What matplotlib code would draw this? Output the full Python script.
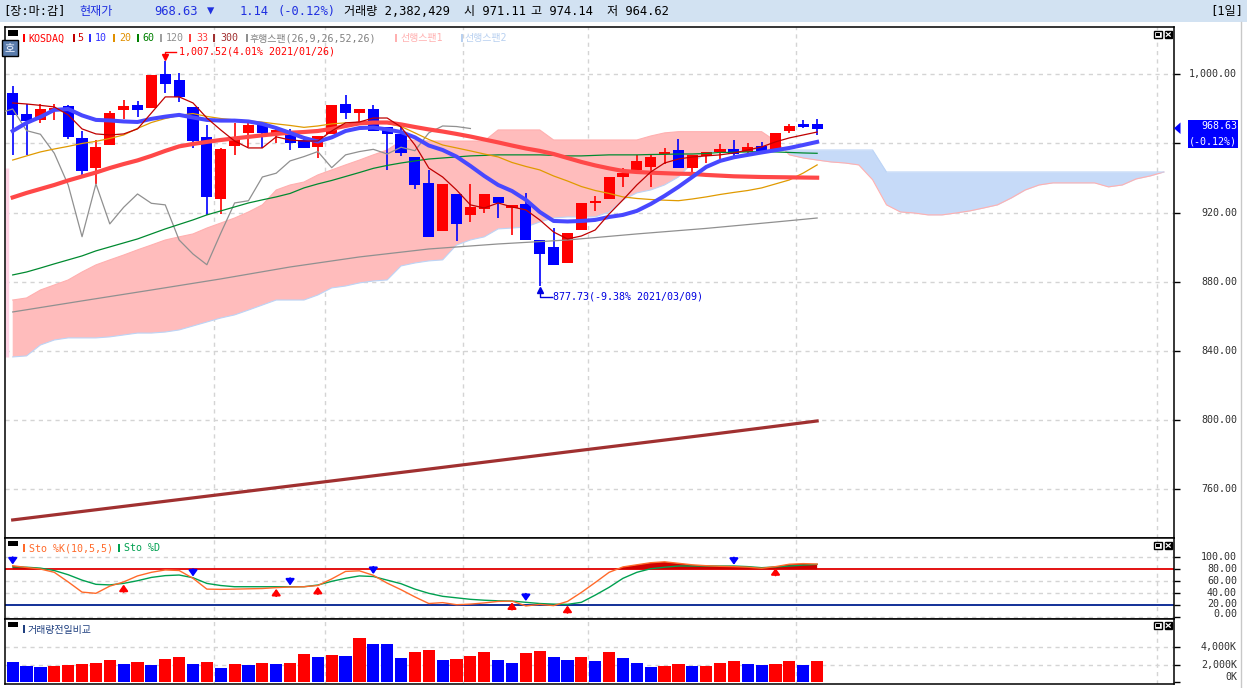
import numpy as np
import matplotlib
matplotlib.use("Agg")
import matplotlib.pyplot as plt
from matplotlib.patches import Rectangle, Polygon
from matplotlib.lines import Line2D

plt.rcParams["font.family"] = ["DejaVu Sans Mono", "Noto Sans CJK KR"]

# ---- KOSDAQ daily candles 2021-01-11 .. 2021-04-06 ----
opens = [989.0, 977.1, 973.6, 979.4, 981.8, 963.4, 945.7, 959.1, 979.5, 982.3,
         980.7, 1000.2, 996.5, 980.9, 963.6, 927.7, 958.7, 965.9, 970.7, 964.9,
         967.2, 962.0, 958.2, 965.3, 982.8, 977.8, 979.9, 969.4, 965.7, 952.0,
         937.0, 909.6, 930.8, 918.7, 922.1, 929.1, 922.7, 925.0, 904.2, 900.3,
         890.8, 910.0, 925.8, 927.9, 940.6, 944.7, 946.6, 953.8, 956.2, 946.0,
         952.8, 955.3, 956.6, 954.9, 958.6, 956.2, 967.4, 971.3, 971.11]
highs = [993.4, 982.8, 982.8, 982.8, 982.3, 967.4, 962.0, 979.0, 985.1, 984.7,
         999.6, 1007.52, 1000.8, 980.9, 970.7, 957.6, 971.8, 971.8, 971.5, 969.7,
         968.2, 964.3, 964.3, 982.3, 988.0, 979.9, 982.3, 969.4, 969.4, 952.0,
         944.7, 936.6, 930.8, 936.4, 930.8, 929.1, 924.5, 931.2, 904.2, 911.3,
         908.1, 925.6, 929.4, 940.6, 946.0, 953.4, 953.4, 957.6, 962.6, 953.4,
         955.3, 959.7, 962.0, 960.1, 961.0, 966.1, 971.3, 973.6, 974.14]
lows = [953.4, 953.4, 971.8, 973.6, 962.6, 939.9, 936.6, 959.1, 974.3, 975.1,
        980.7, 989.0, 984.2, 957.2, 918.7, 919.2, 953.4, 958.2, 957.2, 960.1,
        956.2, 957.6, 951.4, 965.3, 974.0, 971.7, 967.4, 944.7, 952.9, 933.7,
        906.1, 909.6, 903.8, 914.5, 920.0, 916.8, 907.1, 904.2, 877.73, 889.9,
        890.8, 910.0, 921.2, 927.9, 934.7, 944.7, 935.0, 948.0, 946.0, 943.1,
        948.6, 950.9, 952.8, 953.8, 953.9, 956.2, 966.2, 968.8, 964.62]
closes = [976.5, 973.2, 979.8, 980.5, 963.9, 944.3, 958.2, 977.6, 981.8, 979.4,
          999.6, 994.2, 986.7, 961.4, 928.9, 956.8, 963.6, 970.5, 965.9, 967.8,
          960.5, 957.6, 964.3, 982.3, 977.5, 979.9, 967.4, 965.3, 954.3, 936.0,
          906.1, 936.6, 913.5, 923.1, 930.8, 925.4, 924.5, 904.2, 896.1, 889.9,
          908.1, 925.6, 926.9, 940.6, 942.8, 949.9, 952.4, 955.3, 946.0, 953.4,
          955.3, 956.6, 953.9, 957.8, 955.8, 966.1, 970.1, 969.77, 968.63]

# moving averages
ma5 = [983.4, 982.8, 982.0, 981.1, 976.5, 968.4, 965.5, 964.9, 965.5, 968.4,
       977.6, 986.9, 986.9, 983.4, 974.7, 967.8, 961.4, 957.4, 957.4, 963.8,
       962.0, 961.4, 961.4, 967.2, 971.9, 972.4, 974.7, 974.7, 969.5, 959.1,
       945.8, 940.6, 933.1, 924.5, 922.7, 925.6, 923.3, 921.6, 915.8, 908.8,
       904.8, 906.5, 910.0, 919.2, 927.4, 936.0, 943.5, 948.7, 951.0, 952.2,
       952.8, 953.4, 954.5, 956.2, 958.0, 960.9, 963.2, 964.9, 966.6]
ma10 = [967.2, 971.9, 975.3, 979.4, 979.9, 976.2, 973.6, 973.3, 972.7, 972.4,
        974.2, 975.5, 976.5, 975.0, 973.6, 973.2, 973.2, 972.7, 971.3, 968.9,
        966.1, 963.2, 961.1, 963.5, 967.2, 968.9, 969.2, 968.1, 966.6, 963.5,
        958.8, 956.2, 952.4, 947.0, 941.2, 936.0, 932.5, 927.4, 920.4, 915.2,
        914.9, 915.2, 915.8, 917.5, 918.7, 921.0, 925.0, 929.7, 934.9, 940.6,
        946.4, 949.9, 952.0, 953.4, 954.8, 956.1, 957.4, 959.1, 960.9]
ma20 = [950.4, 952.8, 955.1, 956.8, 958.3, 960.0, 961.2, 962.9, 964.9, 968.7,
        972.1, 974.4, 976.2, 977.3, 975.6, 974.4, 973.6, 973.0, 972.3, 971.3,
        970.4, 969.3, 970.1, 971.3, 971.9, 972.1, 972.1, 971.6, 969.8, 966.1,
        962.3, 959.1, 957.4, 955.7, 953.9, 952.2, 949.0, 946.7, 944.7, 941.2,
        938.3, 935.1, 932.8, 931.1, 929.1, 928.2, 927.6, 927.2, 926.9, 927.9,
        929.1, 930.5, 931.7, 932.8, 934.3, 936.6, 938.9, 942.9, 947.6]
ma60 = [884.0, 885.7, 888.0, 890.4, 892.7, 895.0, 897.9, 900.2, 902.5, 904.8,
        907.7, 910.6, 913.2, 915.8, 918.7, 921.0, 923.3, 925.6, 927.4, 929.1,
        931.1, 934.3, 936.6, 938.6, 940.9, 943.2, 945.6, 947.3, 948.7, 949.9,
        951.0, 951.6, 952.2, 952.8, 953.1, 953.4, 953.4, 953.4, 953.4, 953.1,
        952.8, 952.8, 953.1, 953.4, 953.4, 953.4, 953.6, 953.7, 953.9, 953.9,
        954.2, 954.8, 954.9, 955.1, 955.3, 955.1, 954.8, 954.5, 954.3]
ma33 = [928.8, 931.4, 933.7, 936.0, 938.6, 940.9, 943.2, 945.8, 948.1, 950.2,
        952.8, 955.7, 958.3, 959.7, 960.9, 962.0, 962.9, 963.8, 964.7, 965.5,
        966.2, 966.6, 967.2, 968.4, 970.1, 971.6, 972.1, 972.1, 971.0, 969.5,
        968.1, 966.9, 965.5, 964.0, 962.3, 960.6, 958.8, 957.1, 955.7, 953.9,
        951.6, 949.3, 947.3, 945.6, 944.1, 943.5, 943.1, 942.8, 942.5, 942.4,
        941.8, 941.4, 941.0, 940.8, 940.6, 940.5, 940.4, 940.3, 940.2]
ma120_at = [0, 5, 10, 15, 20, 25, 30, 35, 40, 45, 50, 55, 58]
ma120 = [862.6, 869.0, 875.3, 881.7, 888.6, 894.4, 899.0, 901.9, 904.2, 907.7,
         910.9, 914.6, 916.9]
ma300_at = [0, 10, 20, 30, 40, 50, 58]
ma300 = [742.4, 752.2, 762.0, 771.8, 781.7, 791.5, 799.6]

# ichimoku leading spans, bar 0 .. bar 83 (26 bars ahead)
span1 = [869.5, 870.7, 875.3, 878.2, 881.1, 885.7, 889.8, 892.7, 895.5, 898.5,
         901.3, 904.2, 906.0, 907.7, 911.1, 914.0, 916.9, 920.4, 924.5, 933.1,
         936.0, 937.7, 941.8, 944.7, 947.6, 950.4, 953.4, 956.2, 961.4, 962.0,
         961.4, 961.4, 961.4, 961.4, 961.4, 967.8, 967.8, 967.8, 967.8, 962.0,
         962.0, 962.0, 962.0, 962.0, 962.0, 962.0, 964.3, 966.1, 966.8, 966.8,
         966.8, 966.8, 966.8, 966.8, 966.8, 961.4, 953.4, 951.6, 950.4, 949.3,
         948.7, 947.6, 939.0, 924.5, 920.4, 919.8, 918.7, 918.7, 919.8, 921.0,
         922.7, 924.5, 928.5, 933.1, 936.0, 937.2, 937.2, 937.2, 937.2, 934.9,
         936.0, 939.5, 941.2, 943.5]
span1_prev = 946.0          # leading span 1 on the bar just left of the window
span2 = [836.6, 837.2, 843.5, 846.4, 847.6, 847.6, 847.6, 848.2, 849.3, 850.4,
         850.4, 851.0, 852.2, 854.5, 856.8, 859.1, 860.9, 863.7, 866.6, 869.5,
         869.5, 869.5, 872.4, 876.5, 877.6, 879.4, 880.5, 881.1, 889.2, 890.9,
         892.1, 892.7, 901.3, 904.2, 906.0, 910.6, 911.1, 911.7, 914.6, 916.9,
         917.5, 917.5, 917.5, 920.4, 927.4, 931.4, 933.1, 936.0, 940.6, 948.7,
         954.5, 956.2, 956.2, 956.2, 956.2, 956.2, 956.2, 956.2, 956.2, 956.2,
         956.2, 956.2, 956.2, 943.5, 943.5, 943.5, 943.5, 943.5, 943.5, 943.5,
         943.5, 943.5, 943.5, 943.5, 943.5, 943.5, 943.5, 943.5, 943.5, 943.5,
         943.5, 943.5, 943.5, 943.5]
LAG = 25

# stochastic slow (10,5,5)
sto_k = [86, 83, 80.5, 75, 59, 42, 40, 52, 59, 69,
         75, 79, 78, 65, 47, 46.6, 47, 47.5, 48, 49.5,
         50.5, 51, 53, 64, 76.5, 77.5, 70, 57, 46, 34,
         23, 24.5, 21, 22, 24, 26.5, 27, 19, 21.5, 19.5,
         26.5, 41.5, 58, 75, 84, 87.5, 91, 92.5, 90, 87.5,
         86, 85, 84.5, 83.5, 81.7, 84.5, 88.5, 89.5, 88.8]
sto_d = [84, 83.5, 82, 78, 71, 62, 55, 54, 56.6, 61,
         66.5, 69.5, 70.5, 66, 56.5, 53, 51, 51, 51, 51,
         51, 51, 53.8, 60, 65, 69, 68, 62, 56, 47,
         40, 35, 32.5, 30, 28.5, 27.5, 27.1, 25, 23, 22,
         21.6, 25, 37, 50, 65, 75, 81, 83.5, 85.5, 85.5,
         85.5, 85.5, 85.5, 84.5, 82.7, 84, 85.5, 87, 88.3]
sell_sig = [0, 13, 20, 26, 37, 52]
buy_sig = [8, 19, 22, 36, 40, 55]

# volume, thousands of shares
volume = [2291, 1861, 1745, 1861, 1981, 2097, 2213, 2562, 2097, 2330,
          1981, 2679, 2911, 2097, 2330, 1632, 2097, 1981, 2213, 2097,
          2213, 3260, 2911, 3144, 3028, 5121, 4423, 4400, 2795, 3493,
          3725, 2562, 2679, 3028, 3493, 2562, 2213, 3377, 3609, 2911,
          2562, 2911, 2446, 3493, 2795, 2213, 1745, 1861, 2097, 1861,
          1870, 2213, 2446, 2097, 1981, 2097, 2446, 1981, 2382]

price_ticks = [760, 800, 840, 880, 920, 960, 1000]
month_breaks = [14.5, 22.5, 32.5, 41.5, 56.5, 82.5]

RED, BLUE = "#ff0000", "#0000ff"
GRID = "#d4d4d4"
FS = 7.2

W, H = 1247, 688
fig = plt.figure(figsize=(W / 100, H / 100), dpi=100)
fig.patch.set_facecolor("white")


def ftext(x, y, s, **kw):
    kw.setdefault("va", "center")
    kw.setdefault("fontsize", FS)
    fig.text(x / W, 1 - y / H, s, **kw)


def frect(x0, y0, x1, y1, **kw):
    fig.add_artist(Rectangle((x0 / W, 1 - y1 / H), (x1 - x0) / W, (y1 - y0) / H,
                             transform=fig.transFigure, **kw))


def fline(xs, ys, **kw):
    fig.add_artist(Line2D([x / W for x in xs], [1 - y / H for y in ys],
                          transform=fig.transFigure, **kw))


L, R = 5, 1174


def add_ax(top, bottom):
    a = fig.add_axes([L / W, 1 - bottom / H, (R - L) / W, (bottom - top) / H])
    a.set_xlim(-0.555, 83.73)
    a.set_xticks([])
    for s in a.spines.values():
        s.set_color("black")
        s.set_linewidth(1.1)
    a.tick_params(axis="y", left=False, right=True, labelleft=False,
                  labelright=False, direction="out", length=4, width=1)
    for xb in month_breaks:
        a.axvline(xb, color=GRID, lw=1, ls=(0, (3, 3)), zorder=0.5)
    return a


def right_labels(a, vals, labels, ypos=None):
    a.set_yticks(vals)
    for v, lab in zip(vals if ypos is None else ypos, labels):
        if lab:
            a.text(1 + 63 / (R - L), v, lab, transform=a.get_yaxis_transform(),
                   ha="right", va="center", fontsize=FS, color="#303030")


# ---- header bar ----
frect(0, 0, W, 22, facecolor="#d2e2f2", edgecolor="none")
HF = 8.7
ftext(3.6, 11.5, "[장:마:감]", fontsize=HF, color="black")
ftext(79.5, 11.5, "현재가", fontsize=HF, color="#2030e0")
ftext(154, 11.5, "968.63", fontsize=HF, color="#2030e0")
ftext(207, 11.5, "▼", fontsize=HF, color="#2030e0")
ftext(240, 11.5, "1.14", fontsize=HF, color="#2030e0")
ftext(277.7, 11.5, "(-0.12%)", fontsize=HF, color="#2030e0")
ftext(343.8, 11.5, "거래량 2,382,429", fontsize=HF, color="black")
ftext(464, 11.5, "시 971.11", fontsize=HF, color="black")
ftext(531, 11.5, "고 974.14", fontsize=HF, color="black")
ftext(607, 11.5, "저 964.62", fontsize=HF, color="black")
ftext(1243, 11.5, "[1일]", fontsize=HF, color="black", ha="right")
fline([1241, 1241], [22, 688], color="#c8c8c8", lw=1)

# ---- main price panel ----
ax = add_ax(27, 538)
ax.set_ylim(731.96, 1027.3)
for v in price_ticks:
    ax.axhline(v, color=GRID, lw=1, ls=(0, (3, 3)), zorder=0.5)
right_labels(ax, price_ticks, [f"{v:,.2f}" if v != 960 else "" for v in price_ticks])

fut = np.arange(len(span1))
s1, s2 = np.array(span1), np.array(span2)
ax.fill_between(fut, s1, s2, where=s1 >= s2, interpolate=True, color="#ffbcbc", lw=0, zorder=1)
ax.fill_between(fut, s1, s2, where=s1 <= s2, interpolate=True, color="#c6daf8", lw=0, zorder=1)
ax.plot(fut, s1, color="#ffb0b0", lw=0.8, zorder=1.2)
ax.plot(fut, s2, color="#bcd4f6", lw=0.8, zorder=1.2)
ax.vlines(-0.38, span2[0], span1_prev, color="#ffd2e4", lw=2.5, zorder=1.1)

idx = np.arange(len(closes))
o, h, l, c = map(np.array, (opens, highs, lows, closes))
col = np.where(c >= o, RED, BLUE)
ax.vlines(idx, l, h, colors=col, lw=1.2, zorder=2)
ax.bar(idx, np.maximum(np.abs(c - o), 0.6), width=0.8, bottom=np.minimum(o, c),
       color=col, lw=0, zorder=2.1)

ax.plot(ma300_at, ma300, color="#a03030", lw=2.3, zorder=3)
ax.plot(ma120_at, ma120, color="#909090", lw=0.9, zorder=3)
ax.plot(idx - LAG, closes, color="#909090", lw=0.9, zorder=3)
ax.plot(idx, ma60, color="#008a30", lw=0.9, zorder=3)
ax.plot(idx, ma20, color="#e09a00", lw=0.9, zorder=3)
ax.plot(idx, ma33, color="#ff4848", lw=3.0, zorder=3)
ax.plot(idx, ma10, color="#4848ff", lw=2.9, zorder=3)
ax.plot(idx, ma5, color="#c00000", lw=0.9, zorder=3.2)

# high / low call-outs
ih, il = int(np.argmax(h)), int(np.argmin(l))
ax.plot([ih + 0.8, ih, ih], [h[ih] + 5.5, h[ih] + 5.5, h[ih] + 2.6], color=RED, lw=1, zorder=4)
ax.plot([ih], [h[ih] + 2.2], marker="v", ms=4, color=RED, zorder=4)
ax.text(ih + 1.0, h[ih] + 5.5, f"{h[ih]:,.2f}(4.01% 2021/01/26)", color=RED,
        fontsize=FS, va="center", ha="left", zorder=4)
ax.plot([il + 0.9, il, il], [l[il] - 6.4, l[il] - 6.4, l[il] - 2.6], color="#0000e0", lw=1, zorder=4)
ax.plot([il], [l[il] - 2.2], marker="^", ms=4, color="#0000e0", zorder=4)
ax.text(il + 0.98, l[il] - 6.2, f"{l[il]:.2f}(-9.38% 2021/03/09)", color="#0000e0",
        fontsize=FS, va="center", ha="left", zorder=4)

# legend strip
legend = [(22.5, 28.6, "KOSDAQ", "#ff0000", "#ff0000"),
          (73, 77, "5", "#c00000", "#d00000"),
          (88.6, 94.6, "10", "#3030ff", "#3030ff"),
          (112.5, 119, "20", "#e09000", "#e09000"),
          (136.8, 142, "60", "#008000", "#008000"),
          (160, 166, "120", "#a0a0a0", "#909090"),
          (189, 196, "33", "#ff4040", "#ff4040"),
          (213, 220, "300", "#a03030", "#a03030"),
          (245.7, 250, "후행스팬(26,9,26,52,26)", "#909090", "#808080"),
          (395, 400, "선행스팬1", "#ffb0b0", "#ffb0b0"),
          (460.7, 464, "선행스팬2", "#b8d0f0", "#b8d0f0")]
for mx, tx, s, mc, tc in legend:
    frect(mx, 34, mx + 2, 42, facecolor=mc, edgecolor="none")
    ftext(tx, 38.3, s, color=tc)
frect(8, 30, 18, 35.5, facecolor="black", edgecolor="none")
frect(2, 40, 18, 55.5, facecolor="#5a7cab", edgecolor="black", lw=1)
ftext(10, 47.8, "호", color="#eef3ff", ha="center", fontsize=8)

# last price tag
frect(1188, 120, 1238, 148, facecolor="#0000ff", edgecolor="none")
ftext(1237, 126.3, "968.63", color="white", ha="right")
ftext(1237, 141.5, "(-0.12%)", color="white", ha="right")
fig.add_artist(Polygon([(1174 / W, 1 - 128.3 / H), (1180.5 / W, 1 - 122.5 / H),
                        (1180.5 / W, 1 - 134 / H)], closed=True, transform=fig.transFigure,
                       facecolor="#0000ff", edgecolor="none"))

# ---- stochastic panel ----
axs = add_ax(538, 619)
axs.set_ylim(-2.8, 132.2)
for v in (100, 60, 40, 0):
    axs.axhline(v, color=GRID, lw=1, ls=(0, (3, 3)), zorder=0.5)
axs.axhline(80, color="#e00000", lw=1.3, zorder=1)
axs.axhline(20, color="#002090", lw=1.3, zorder=1)
k, d = np.array(sto_k), np.array(sto_d)
top = np.maximum(k, d)
axs.fill_between(idx, 80, top, where=top > 80, interpolate=True, color="#d00000", lw=0, zorder=1.5)
axs.plot(idx, d, color="#00a050", lw=1, zorder=2)
axs.plot(idx, k, color="#ff6a2a", lw=1, zorder=2.1)
for i in sell_sig:
    t = max(k[i], d[i])
    axs.annotate("", xy=(i, t + 2), xytext=(i, t + 14),
                 arrowprops=dict(arrowstyle="-|>,head_length=0.35,head_width=0.25",
                                 color="#0000ff", lw=1.5, shrinkA=0, shrinkB=0), zorder=3)
for i in buy_sig:
    b = min(k[i], d[i])
    axs.annotate("", xy=(i, b - 2), xytext=(i, b - 14),
                 arrowprops=dict(arrowstyle="-|>,head_length=0.35,head_width=0.25",
                                 color="#ff0000", lw=1.5, shrinkA=0, shrinkB=0), zorder=3)
right_labels(axs, [100, 80, 60, 40, 20, 0],
             ["100.00", "80.00", "60.00", "40.00", "20.00", "0.00"],
             ypos=[100, 80, 60, 40, 21.5, 5.5])
frect(8, 541, 17.5, 545.5, facecolor="black", edgecolor="none")
frect(23, 544, 25, 552, facecolor="#ff6a2a", edgecolor="none")
ftext(29, 548.3, "Sto %K(10,5,5)", color="#ff6a2a")
frect(118, 544, 120, 552, facecolor="#00a050", edgecolor="none")
ftext(124, 548.3, "Sto %D", color="#00a050")

# ---- volume panel ----
axv = add_ax(619, 684)
axv.set_ylim(-267, 7290)
for v in (2000, 4000):
    axv.axhline(v, color=GRID, lw=1, ls=(0, (3, 3)), zorder=0.5)
vol = np.array(volume)
vup = np.r_[False, vol[1:] > vol[:-1]]
axv.bar(idx, vol, width=0.88, color=np.where(vup, RED, BLUE), lw=0, zorder=2)
right_labels(axv, [4000, 2000, 0], ["4,000K", "2,000K", "0K"], ypos=[4000, 2000, 580])
frect(8, 622, 17.5, 627, facecolor="black", edgecolor="none")
frect(23, 625, 25, 633, facecolor="#204080", edgecolor="none")
ftext(27.5, 630, "거래량전일비교", color="#204080")

# panel buttons (minimise / close)
for y0 in (31, 542, 622):
    frect(1154, y0, 1161.5, y0 + 7, facecolor="white", edgecolor="black", lw=1)
    frect(1156, y0 + 2.2, 1159.5, y0 + 4.6, facecolor="black", edgecolor="none")
    frect(1164.5, y0, 1172, y0 + 7, facecolor="black", edgecolor="black", lw=1)
    fline([1166.3, 1170.2], [y0 + 1.8, y0 + 5.2], color="white", lw=0.9)
    fline([1166.3, 1170.2], [y0 + 5.2, y0 + 1.8], color="white", lw=0.9)

fig.savefig("out.png", dpi=100, facecolor="white")
